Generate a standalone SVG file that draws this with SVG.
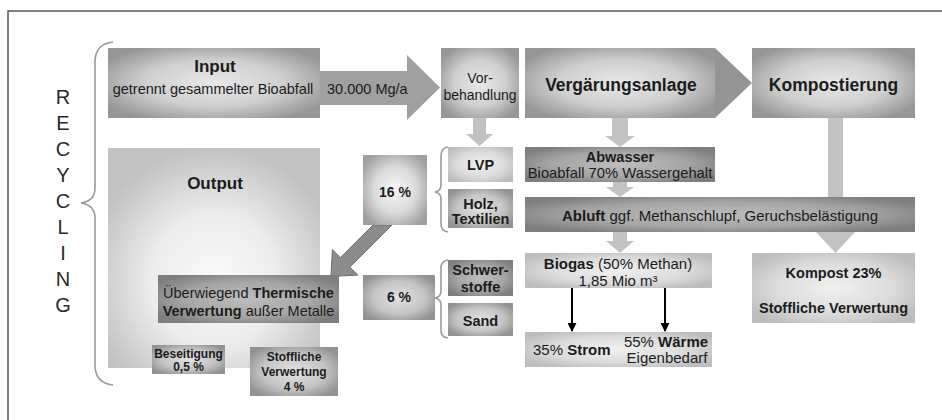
<svg xmlns="http://www.w3.org/2000/svg" width="942" height="420" viewBox="0 0 942 420">
<defs>
<radialGradient id="gTop" cx="0.5" cy="0.5" r="0.6"><stop offset="0" stop-color="#e8e8e8"/><stop offset="0.55" stop-color="#cfcfcf"/><stop offset="1" stop-color="#969696"/></radialGradient>
<radialGradient id="gOut" cx="0.5" cy="0.6" r="0.6"><stop offset="0" stop-color="#fbfbfb"/><stop offset="0.5" stop-color="#ececec"/><stop offset="1" stop-color="#c2c2c2"/></radialGradient>
<radialGradient id="gDark" cx="0.5" cy="0.5" r="0.6"><stop offset="0" stop-color="#bdbdbd"/><stop offset="0.6" stop-color="#a5a5a5"/><stop offset="1" stop-color="#7e7e7e"/></radialGradient>
<radialGradient id="gMid" cx="0.5" cy="0.5" r="0.6"><stop offset="0" stop-color="#e2e2e2"/><stop offset="0.6" stop-color="#c4c4c4"/><stop offset="1" stop-color="#929292"/></radialGradient>
<radialGradient id="gLight" cx="0.5" cy="0.5" r="0.6"><stop offset="0" stop-color="#f0f0f0"/><stop offset="0.6" stop-color="#dcdcdc"/><stop offset="1" stop-color="#bdbdbd"/></radialGradient>
<radialGradient id="gPct" cx="0.5" cy="0.5" r="0.6"><stop offset="0" stop-color="#f8f8f8"/><stop offset="0.55" stop-color="#dadada"/><stop offset="1" stop-color="#a0a0a0"/></radialGradient>
<marker id="blk" viewBox="0 0 10 10" refX="9" refY="5" markerWidth="4.5" markerHeight="4.5" orient="auto" markerUnits="strokeWidth"><path d="M0,0 L10,5 L0,10 z" fill="#000"/></marker>
</defs>
<style>
text{font-family:"Liberation Sans",Arial,sans-serif;fill:#1c1c1c}
.t{font-size:14.5px}
.b{font-weight:bold}
.m{text-anchor:middle}
.big{font-size:17.5px;font-weight:bold;text-anchor:middle}
.sm{font-size:12px;font-weight:bold;text-anchor:middle}
.rec{font-size:20px;text-anchor:middle;fill:#2a2a2a}
.brace{fill:none;stroke:#9a9a9a;stroke-width:1.6}
.down{fill:#c2c2c2}
.top{fill:url(#gTop)}
.out{fill:url(#gOut)}
.dark{fill:url(#gDark)}
.mid{fill:url(#gMid)}
.light{fill:url(#gLight)}
.pct{fill:url(#gPct)}
</style>
<rect width="942" height="420" fill="#fff"/>
<path d="M8,420 L8,11 L942,11" fill="none" stroke="#555" stroke-width="1.5"/>

<g id="recycling">
<text class="rec" x="63" y="104">R</text>
<text class="rec" x="63" y="130">E</text>
<text class="rec" x="63" y="156">C</text>
<text class="rec" x="63" y="182">Y</text>
<text class="rec" x="63" y="208">C</text>
<text class="rec" x="63" y="234">L</text>
<text class="rec" x="63" y="260">I</text>
<text class="rec" x="63" y="286">N</text>
<text class="rec" x="63" y="312">G</text>
<path class="brace" d="M113,42 Q95,44 95,62 L95,188 Q95,201 81,203 Q95,205 95,218 L95,365 Q95,383 113,385"/>
</g>

<g id="connectors">
<polygon points="320,71 407,71 407,55 440,87.5 407,120 407,105 320,105" fill="#a0a0a0"/>
<polygon points="715,48 752,83 715,118" fill="#949494"/>
<polygon class="down" points="473,118 486,118 486,134 493,134 479.5,146 466,134 473,134"/>
<polygon class="down" points="612,118 628,118 628,136 635,136 620,147 605,136 612,136"/>
<polygon class="down" points="613,182 627,182 627,187 634,187 620,197 606,187 613,187"/>
<polygon class="down" points="613,232 627,232 627,241 634,241 620,253 606,241 613,241"/>
<polygon class="down" points="828,118 843,118 843,232 855,232 835.5,253 816,232 828,232"/>
<polygon points="373,225 392,225 349.8,267.1 357.8,275.1 331,276.5 332.4,249.7 340.4,257.7" fill="#8c8c8c" stroke="#6e6e6e" stroke-width="1"/>
<line x1="193" y1="323" x2="193" y2="339" stroke="#9a9a9a" stroke-width="2"/>
<polygon points="188,338 198,338 193,346" fill="#9a9a9a"/>
<polygon points="289,323 297,323 297,336 302,336 293,347 284,336 289,336" fill="#8e8e8e"/>
<line x1="572" y1="288" x2="572" y2="331" stroke="#000" stroke-width="2" marker-end="url(#blk)"/>
<line x1="665" y1="288" x2="665" y2="331" stroke="#000" stroke-width="2" marker-end="url(#blk)"/>
</g>

<g id="input">
<rect class="top" x="108" y="48" width="212" height="70"/>
<text class="big" x="215" y="72" style="font-size:17px">Input</text>
<text class="t m" x="213" y="94">getrennt gesammelter Bioabfall</text>
</g>
<text class="t" x="327" y="94">30.000 Mg/a</text>

<g id="vorbehandlung">
<rect class="top" x="441" y="48" width="78" height="70"/>
<text class="m" x="480" y="83" style="font-size:14px">Vor-</text>
<text class="m" x="480" y="100" style="font-size:14px">behandlung</text>
</g>

<g id="vergaerung">
<rect class="top" x="525" y="48" width="190" height="70"/>
<text class="big" x="621" y="91">Vergärungsanlage</text>
</g>

<g id="kompostierung">
<rect class="top" x="752" y="48" width="163" height="70"/>
<text class="big" x="833.5" y="91">Kompostierung</text>
</g>

<g id="output">
<rect class="out" x="108" y="148" width="212" height="220"/>
<text class="big" x="215" y="189" style="font-size:17px">Output</text>
</g>

<g id="thermische">
<rect class="dark" x="158" y="275" width="181" height="48"/>
<text class="t m" x="248.5" y="298">Überwiegend <tspan class="b">Thermische</tspan></text>
<text class="t m" x="248.5" y="316"><tspan class="b">Verwertung</tspan> außer Metalle</text>
</g>

<g id="beseitigung">
<rect class="mid" x="152" y="345" width="73" height="29"/>
<text class="sm" x="188.5" y="358">Beseitigung</text>
<text class="sm" x="188.5" y="371">0,5 %</text>
</g>

<g id="stoffliche">
<rect class="mid" x="250" y="347" width="88" height="49"/>
<text class="sm" x="294" y="361">Stoffliche</text>
<text class="sm" x="294" y="376">Verwertung</text>
<text class="sm" x="294" y="391">4 %</text>
</g>

<g id="p16">
<rect class="pct" x="363" y="155" width="64" height="70"/>
<text class="t b m" x="395" y="197" style="font-size:14px">16 %</text>
</g>

<g id="lvp">
<rect class="light" x="448" y="147" width="65" height="35"/>
<text class="t b m" x="480.5" y="170">LVP</text>
</g>
<g id="holz">
<rect class="mid" x="448" y="189" width="65" height="39"/>
<text class="t b m" x="480.5" y="209">Holz,</text>
<text class="t b m" x="480.5" y="224">Textilien</text>
</g>
<path class="brace" d="M448,147 Q441,148 441,156 L441,185 Q441,191 435,192 Q441,193 441,199 L441,224 Q441,231 448,232"/>

<g id="p6">
<rect class="pct" x="363" y="275" width="72" height="45" style="fill:url(#gMid)"/>
<text class="t b m" x="399" y="302" style="font-size:14px">6 %</text>
</g>

<g id="schwerstoffe">
<rect class="dark" x="448" y="260" width="65" height="36"/>
<text class="t b m" x="480.5" y="275">Schwer-</text>
<text class="t b m" x="480.5" y="292">stoffe</text>
</g>
<g id="sand">
<rect class="dark" x="448" y="303" width="65" height="33" style="fill:url(#gMid)"/>
<text class="t b m" x="480.5" y="326">Sand</text>
</g>
<path class="brace" d="M448,260 Q441,261 441,268 L441,291 Q441,297 435,298 Q441,299 441,305 L441,331 Q441,337 448,338"/>

<g id="abwasser">
<rect class="dark" x="525" y="147" width="190" height="35"/>
<text class="t b m" x="620" y="162">Abwasser</text>
<text class="m" x="620" y="178" style="font-size:14.8px">Bioabfall 70% Wassergehalt</text>
</g>

<g id="abluft">
<rect class="dark" x="525" y="197" width="390" height="35"/>
<text class="m" x="720" y="221" style="font-size:15px"><tspan class="b">Abluft</tspan> ggf. Methanschlupf, Geruchsbelästigung</text>
</g>

<g id="biogas">
<rect class="light" x="525" y="253" width="187" height="35"/>
<text class="m" x="618" y="269" style="font-size:15px"><tspan class="b">Biogas</tspan> (50% Methan)</text>
<text class="m" x="618" y="286" style="font-size:15px">1,85 Mio m³</text>
</g>

<g id="strom">
<rect class="light" x="525" y="332" width="187" height="35"/>
<text x="533" y="355" style="font-size:15px">35% <tspan class="b">Strom</tspan></text>
<text class="m" x="666" y="347" style="font-size:15px">55% <tspan class="b">Wärme</tspan></text>
<text class="m" x="667" y="363" style="font-size:15px">Eigenbedarf</text>
</g>

<g id="kompost">
<rect class="light" x="752" y="253" width="163" height="70"/>
<text class="m b" x="833.5" y="278" style="font-size:14.5px">Kompost 23%</text>
<text class="m b" x="833.5" y="313" style="font-size:14.5px">Stoffliche Verwertung</text>
</g>
</svg>
